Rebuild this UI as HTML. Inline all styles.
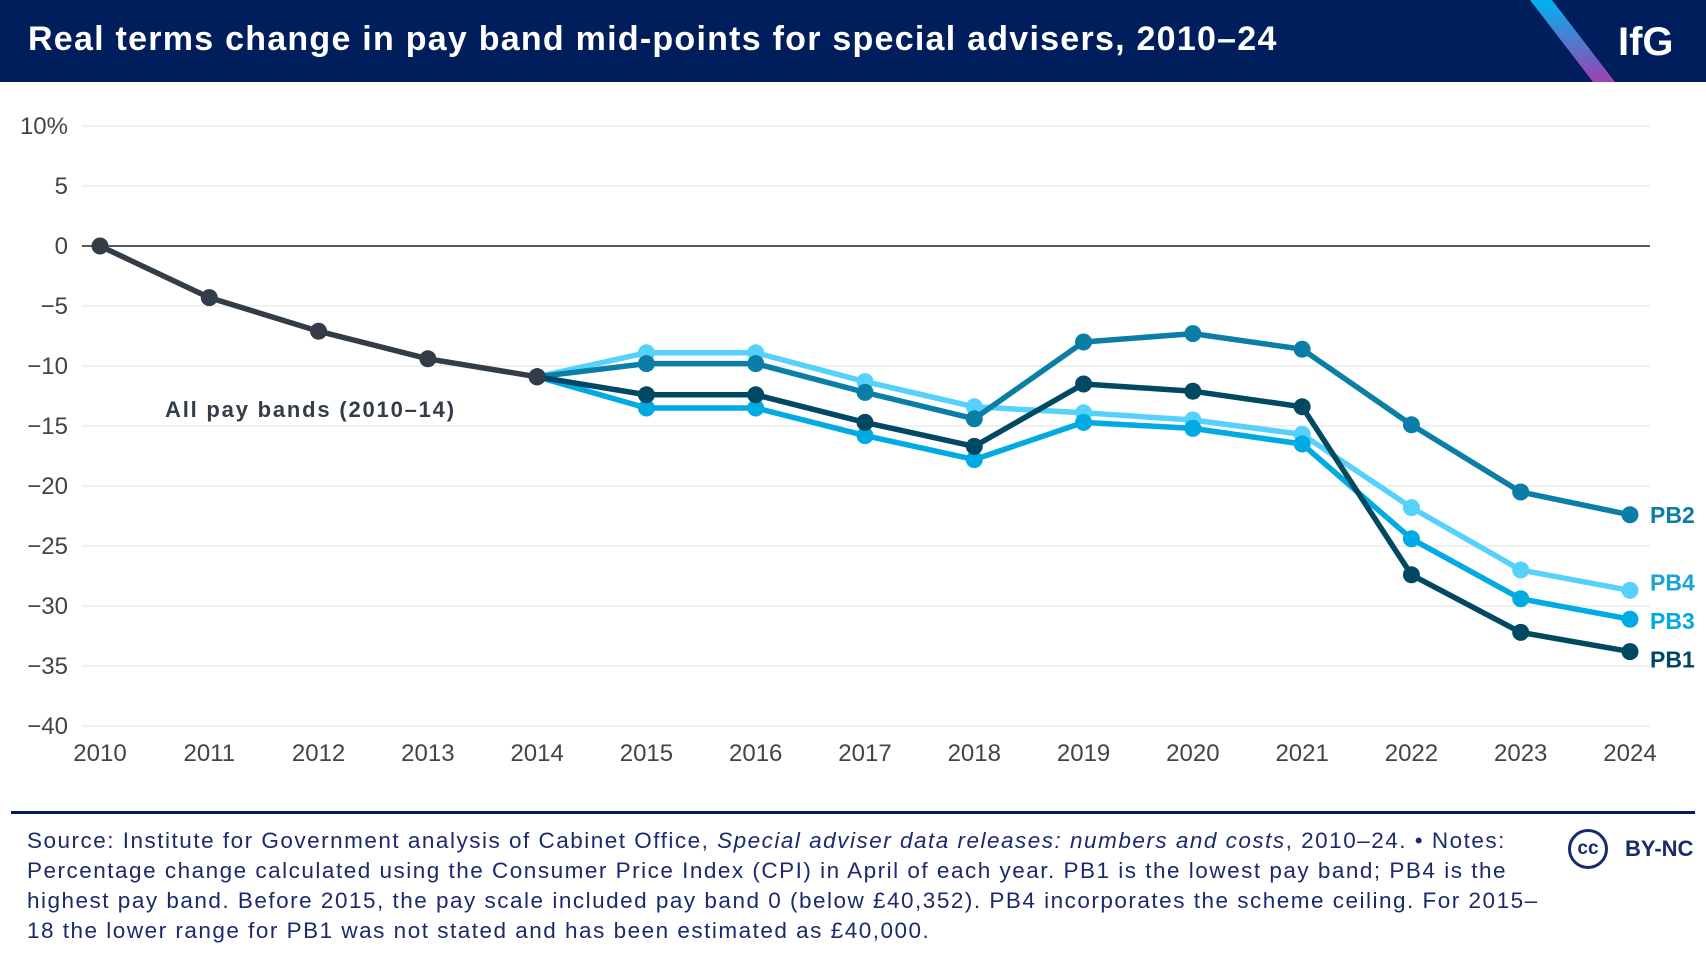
<!DOCTYPE html>
<html><head><meta charset="utf-8"><style>
body{margin:0;width:1706px;height:962px;background:#fff;font-family:"Liberation Sans",sans-serif;overflow:hidden;position:relative}
.hdr{position:absolute;left:0;top:0;width:1706px;height:82px;background:#001d5c}
.title{position:absolute;left:28px;top:20px;color:#fff;font-weight:bold;font-size:34px;letter-spacing:1.25px;white-space:nowrap}
.foot{position:absolute;left:27px;top:826px;width:1600px;font-size:22.5px;line-height:30px;color:#1a2a6c;white-space:nowrap;letter-spacing:1.5px}
</style></head><body>
<div class="hdr">
<div class="title">Real terms change in pay band mid-points for special advisers, 2010–24</div>
<svg style="position:absolute;left:1530px;top:0" width="176" height="82">
<defs><linearGradient id="g" x1="0" y1="0" x2="0" y2="1"><stop offset="0" stop-color="#00b3f0"/><stop offset="1" stop-color="#a040b0"/></linearGradient></defs>
<polygon points="0,0 22,0 85,82 63,82" fill="url(#g)"/>
<text x="88" y="55" fill="#fff" font-size="40" font-weight="bold" font-family="Liberation Sans">IfG</text></svg>
</div>
<svg id="chart" width="1706" height="962" style="position:absolute;left:0;top:0"></svg>
<div class="foot">Source: Institute for Government analysis of Cabinet Office, <i>Special adviser data releases: numbers and costs</i>, 2010–24. • Notes:<br>Percentage change calculated using the Consumer Price Index (CPI) in April of each year. PB1 is the lowest pay band; PB4 is the<br>highest pay band. Before 2015, the pay scale included pay band 0 (below £40,352). PB4 incorporates the scheme ceiling. For 2015–<br>18 the lower range for PB1 was not stated and has been estimated as £40,000.</div>
<div style="position:absolute;left:1568px;top:829px;width:40px;height:40px;border:3px solid #1a2a6c;border-radius:50%;box-sizing:border-box;text-align:center;line-height:34px;font-weight:bold;font-size:19px;color:#1a2a6c">cc</div>
<div style="position:absolute;left:1625px;top:836px;font-weight:bold;font-size:22px;color:#1a2a6c">BY-NC</div>
<script>
const years=[2010,2011,2012,2013,2014,2015,2016,2017,2018,2019,2020,2021,2022,2023,2024];
const yTicks=[10,5,0,-5,-10,-15,-20,-25,-30,-35,-40];
const allBands=[0,-4.3,-7.1,-9.4,-10.9];
const pb4=[-10.9,-8.9,-8.9,-11.3,-13.4,-13.9,-14.5,-15.7,-21.8,-27.0,-28.7];
const pb2=[-10.9,-9.8,-9.8,-12.2,-14.4,-8.0,-7.3,-8.6,-14.9,-20.5,-22.4];
const pb3=[-10.9,-13.5,-13.5,-15.8,-17.8,-14.7,-15.2,-16.5,-24.4,-29.4,-31.1];
const pb1=[-10.9,-12.4,-12.4,-14.7,-16.7,-11.5,-12.1,-13.4,-27.4,-32.2,-33.8];
const svg=document.getElementById('chart');const NS='http://www.w3.org/2000/svg';
const X=y=>100+(y-2010)*(1630-100)/14;
const Y=v=>246-v*12;
function mk(t,a,p){const e=document.createElementNS(NS,t);for(const k in a)e.setAttribute(k,a[k]);(p||svg).appendChild(e);return e;}
yTicks.forEach(v=>{
 const l=mk('line',{x1:82,x2:1650,y1:Y(v),y2:Y(v),stroke:v===0?'#222':'#ebebeb','stroke-width':1.5});
 
 
 const t=mk('text',{x:68,y:Y(v)+8,'text-anchor':'end','font-size':24,fill:'#444','font-family':'Liberation Sans'});
 t.textContent=v===10?'10%':(v<0?'−'+(-v):String(v));
 
 
});
years.forEach(y=>{
 const t=mk('text',{x:X(y),y:761,'text-anchor':'middle','font-size':24,fill:'#444','font-family':'Liberation Sans'});
 t.textContent=y;
 
 
});
function series(vals,start,color,name){
 const g=mk('g',{});
 
 
 const pts=vals.map((v,i)=>X(years[start+i])+','+Y(v)).join(' ');
 mk('polyline',{points:pts,fill:'none',stroke:color,'stroke-width':5.5,'stroke-linejoin':'round'},g);
 vals.forEach((v,i)=>{const c=mk('circle',{cx:X(years[start+i]),cy:Y(v),r:8.5,fill:color},g);
  
  });
}
series(pb4,4,'#55d1fb','series-pb4');
series(pb3,4,'#00aae2','series-pb3');
series(pb2,4,'#0a7ea6','series-pb2');
series(pb1,4,'#014962','series-pb1');
series(allBands,0,'#333d47','series-all-bands');
const labs=[['PB2',pb2,'#0a7ea6',0],['PB4',pb4,'#1aa3d6',-8],['PB3',pb3,'#00aae2',2],['PB1',pb1,'#014962',8]];
labs.forEach(([n,a,c,o])=>{const t=mk('text',{x:1650,y:Y(a[a.length-1])+8+o,'font-size':23,'font-weight':'bold',fill:c,'font-family':'Liberation Sans'});t.textContent=n;
 
 });
const al=mk('text',{x:165,y:417,'font-size':22,'font-weight':'bold',fill:'#333d47','font-family':'Liberation Sans','letter-spacing':1.8});al.textContent='All pay bands (2010–14)';


const r=mk('rect',{x:11,y:811,width:1684,height:3,fill:'#001d5c'});


</script>
</body></html>
